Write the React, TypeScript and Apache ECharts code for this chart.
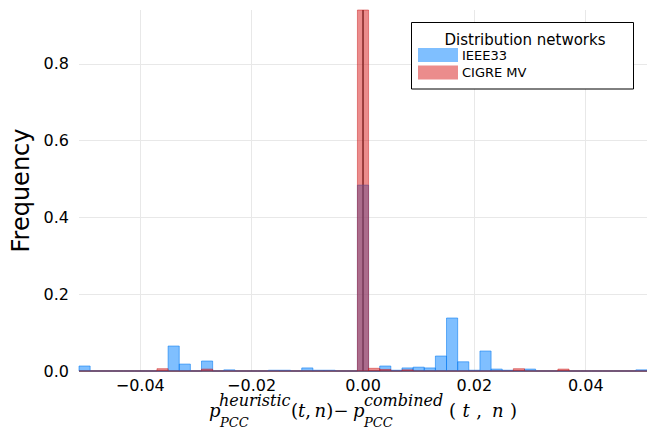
import React, { useEffect, useRef } from 'react';
import * as echarts from 'echarts';

// Histogram bins: first bin starts at binStart, every bin is binWidth wide
const binStart = -0.051;
const binWidth = 0.002;

// Frequencies per bin (51 bins, centres -0.050 ... 0.050)
const ieee33 = [
  0.013, 0, 0, 0, 0, 0, 0, 0, 0.065, 0.018,
  0, 0.026, 0, 0.003, 0, 0, 0, 0.002, 0.002, 0,
  0.008, 0.002, 0.002, 0, 0, 0.484, 0, 0.013, 0.002, 0.008,
  0.010, 0.008, 0.039, 0.138, 0.024, 0.002, 0.052, 0.005, 0.002, 0,
  0.005, 0, 0, 0, 0, 0, 0, 0, 0, 0,
  0.003,
];
const cigreMV = [
  0, 0, 0, 0, 0, 0, 0, 0.006, 0, 0,
  0, 0.005, 0, 0, 0, 0, 0, 0, 0, 0,
  0, 0, 0, 0, 0, 0.96, 0.007, 0.004, 0, 0.003,
  0, 0, 0, 0, 0, 0, 0, 0, 0, 0.006,
  0, 0, 0, 0.005, 0, 0, 0, 0, 0, 0,
  0,
];

const seriesNames = ['IEEE33', 'CIGRE MV'];
const legendTitle = 'Distribution networks';
const yAxisTitle = 'Frequency';
const xRange = [-0.051, 0.051];
const yRange = [0, 0.94];
const zeroLines = [[0, 0]];

const BLUE_FILL = 'rgba(0,128,255,0.5)';
const BLUE_STROKE = 'rgba(0,120,240,0.55)';
const RED_FILL = 'rgba(215,25,25,0.5)';
const RED_STROKE = 'rgba(200,20,20,0.45)';

const toData = (vals: number[]) =>
  vals.map((v, i) => [binStart + (i + 0.5) * binWidth, v]);

const makeRender = (fill: string, stroke: string) => (params: any, api: any) => {
  const c = api.value(0) as number;
  const v = api.value(1) as number;
  const tl = api.coord([c - binWidth / 2, v]);
  const br = api.coord([c + binWidth / 2, 0]);
  const cs = params.coordSys;
  const clip = { x: cs.x, y: cs.y, width: cs.width, height: cs.height };
  if (v <= 0) {
    const x1 = Math.max(tl[0], cs.x);
    const x2 = Math.min(br[0], cs.x + cs.width);
    return {
      type: 'line',
      shape: { x1, y1: br[1], x2, y2: br[1] },
      style: { stroke, lineWidth: 1.5 },
    };
  }
  const r = echarts.graphic.clipRectByRect(
    { x: tl[0], y: tl[1], width: br[0] - tl[0], height: br[1] - tl[1] },
    clip
  );
  if (!r) return null;
  return { type: 'rect', shape: r, style: { fill, stroke, lineWidth: 1 } };
};

const renderZeroLines = (params: any, api: any) => {
  const p = api.coord([api.value(0), api.value(1)]);
  const cs = params.coordSys;
  return {
    type: 'group',
    children: [
      {
        type: 'line',
        shape: { x1: p[0], y1: cs.y, x2: p[0], y2: cs.y + cs.height },
        style: { stroke: '#000', lineWidth: 1.2 },
      },
      {
        type: 'line',
        shape: { x1: cs.x, y1: p[1], x2: cs.x + cs.width, y2: p[1] },
        style: { stroke: '#000', lineWidth: 1.2 },
      },
    ],
  };
};

const fmtX = (v: number) => {
  if (Math.abs(v) < 1e-9) return '0.00';
  return (v < 0 ? '\u2212' : '') + Math.abs(v).toFixed(2);
};

// baseline -> y for middle-aligned (central) text
const mid = (baseline: number, fs: number) => baseline - 0.346 * fs;

const MAIN = 18;
const SUP = 16;
const SUB = 13;
const serif = '"DejaVu Serif", serif';

let measureCtx: CanvasRenderingContext2D | null = null;
const measure = (text: string, font: string) => {
  if (!measureCtx) measureCtx = document.createElement('canvas').getContext('2d');
  if (!measureCtx) return text.length * 8;
  measureCtx.font = font;
  return measureCtx.measureText(text).width;
};

const mathText = (x: number, baseline: number, text: string, fs: number, italic = true) => ({
  type: 'text',
  x,
  y: mid(baseline, fs),
  silent: true,
  style: {
    text,
    fontSize: fs,
    fontFamily: serif,
    fontStyle: italic ? 'italic' : 'normal',
    fill: '#000',
    align: 'left',
    verticalAlign: 'middle',
  },
});

// "(t, n)" glyph by glyph, spread over the given width (0 = natural)
const parenGlyphs: [string, boolean][] = [['(', false], ['t', true], [',', false], ['n', true], [')', false]];
const parenSpread = (x: number, baseline: number, width: number) => {
  const widths = parenGlyphs.map(([g, it]) =>
    measure(g, `${it ? 'italic ' : ''}${MAIN}px "DejaVu Serif"`)
  );
  const natural = widths.reduce((a, b) => a + b, 0) + 0.2 * MAIN;
  const extra = Math.max(0, width - natural) / (parenGlyphs.length - 1);
  const out: any[] = [];
  let cx = x;
  parenGlyphs.forEach(([g, it], i) => {
    out.push(mathText(cx, baseline, g, MAIN, it));
    cx += widths[i] + extra + (g === ',' ? 0.2 * MAIN : 0);
  });
  return out;
};

export default function App() {
  const ref = useRef<HTMLDivElement>(null);
  useEffect(() => {
    document.body.style.margin = '0';
    const chart = echarts.init(ref.current!, null, { renderer: 'svg' });
    const B = 417;
    const option: any = {
      animation: false,
      backgroundColor: '#fff',
      textStyle: { fontFamily: '"DejaVu Sans", sans-serif' },
      grid: { left: 79, top: 10, width: 572, height: 361, containLabel: false },
      xAxis: {
        type: 'value',
        min: xRange[0],
        max: xRange[1],
        splitNumber: 5,
        axisLine: { show: false },
        axisTick: { show: false },
        axisLabel: {
          formatter: fmtX,
          fontSize: 16,
          color: '#000',
          margin: 6,
          showMinLabel: false,
          showMaxLabel: false,
        },
        splitLine: {
          show: true,
          showMinLine: false,
          showMaxLine: false,
          lineStyle: { color: '#e8e8e8', width: 1 },
        },
      },
      yAxis: {
        type: 'value',
        min: yRange[0],
        max: yRange[1],
        interval: 0.2,
        name: yAxisTitle,
        nameLocation: 'middle',
        nameRotate: 90,
        nameGap: 46,
        nameTextStyle: { fontSize: 24, color: '#000' },
        axisLine: { show: false },
        axisTick: { show: false },
        axisLabel: {
          formatter: (v: number) => v.toFixed(1),
          fontSize: 16,
          color: '#000',
          margin: 10,
          showMaxLabel: false,
        },
        splitLine: {
          show: true,
          showMinLine: false,
          showMaxLine: false,
          lineStyle: { color: '#e8e8e8', width: 1 },
        },
      },
      legend: {
        data: [
          { name: seriesNames[0], icon: 'rect' },
          { name: seriesNames[1], icon: 'rect' },
        ],
        orient: 'vertical',
        left: 418,
        top: 48,
        padding: 0,
        itemWidth: 40,
        itemHeight: 14,
        itemGap: 3.5,
        selectedMode: false,
        itemStyle: { borderWidth: 0 },
        textStyle: { fontSize: 13, color: '#000', padding: [0, 0, 0, -1] },
        z: 6,
      },
      graphic: [
        {
          type: 'rect',
          z: 5,
          silent: true,
          shape: { x: 411.5, y: 22.5, width: 222, height: 66.5 },
          style: { fill: '#fff', stroke: '#000', lineWidth: 1 },
        },
        {
          type: 'text',
          z: 6,
          silent: true,
          x: 525,
          y: 39.5,
          style: {
            text: legendTitle,
            fontSize: 15,
            fontFamily: '"DejaVu Sans", sans-serif',
            fill: '#000',
            align: 'center',
            verticalAlign: 'middle',
          },
        },
        mathText(209, B, 'p', MAIN),
        mathText(219, B - 11, 'heuristic', SUP),
        mathText(220, B + 10, 'PCC', SUB),
        ...parenSpread(291, B, 0),
        {
          type: 'text',
          x: 341,
          y: mid(B, MAIN),
          silent: true,
          style: {
            text: '\u2212',
            fontSize: MAIN,
            fontFamily: serif,
            fill: '#000',
            align: 'center',
            verticalAlign: 'middle',
          },
        },
        mathText(353, B, 'p', MAIN),
        mathText(364, B - 11, 'combined', SUP),
        mathText(364, B + 10, 'PCC', SUB),
        ...parenSpread(449, B, 68),
      ],
      series: [
        {
          type: 'custom',
          z: 1,
          silent: true,
          renderItem: renderZeroLines,
          data: zeroLines,
        },
        {
          name: seriesNames[0],
          type: 'custom',
          z: 2,
          silent: true,
          itemStyle: { color: BLUE_FILL },
          renderItem: makeRender(BLUE_FILL, BLUE_STROKE),
          data: toData(ieee33),
        },
        {
          name: seriesNames[1],
          type: 'custom',
          z: 3,
          silent: true,
          itemStyle: { color: RED_FILL },
          renderItem: makeRender(RED_FILL, RED_STROKE),
          data: toData(cigreMV),
        },
      ],
    };
    chart.setOption(option);
    return () => chart.dispose();
  }, []);
  return <div ref={ref} style={{ width: 647, height: 433 }} />;
}
